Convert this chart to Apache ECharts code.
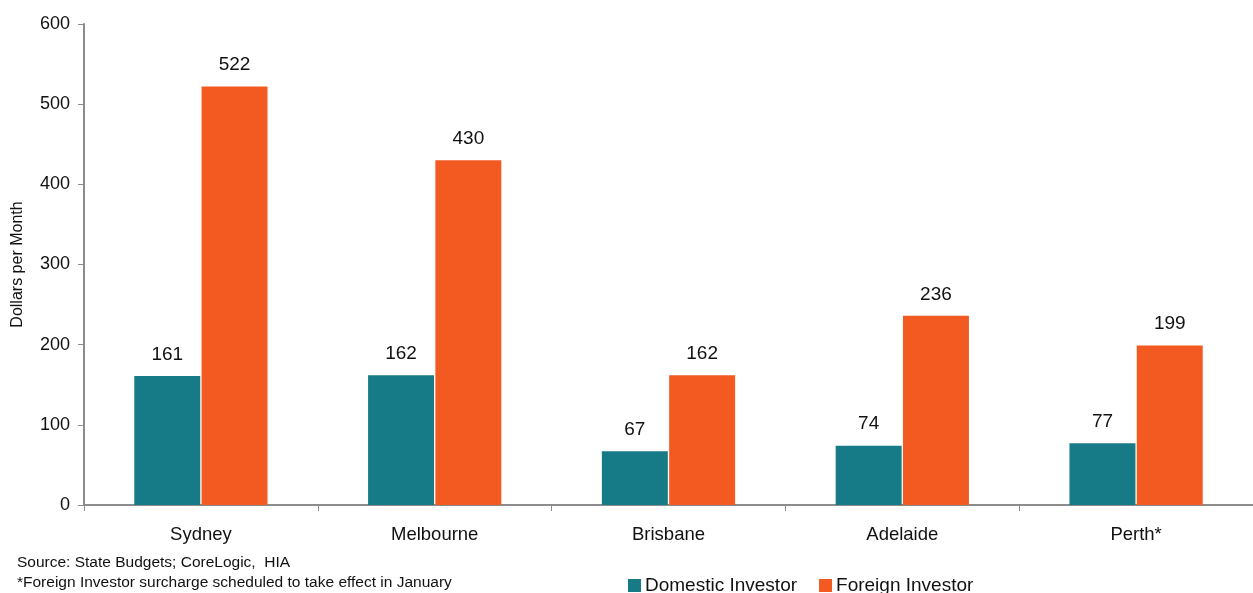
<!DOCTYPE html>
<html>
<head>
<meta charset="utf-8">
<script src="https://cdn.jsdelivr.net/npm/echarts@6/dist/echarts.min.js"></script>
<style>
  html, body { margin: 0; padding: 0; background: #fff; }
  #chart { width: 1253px; height: 593px; }
</style>
</head>
<body>
<div id="chart"></div>
<script>
const cities = ['Sydney', 'Melbourne', 'Brisbane', 'Adelaide', 'Perth*']
const domestic = [161, 162, 67, 74, 77]
const foreign = [522, 430, 162, 236, 199]
const yTicks = { min: 0, max: 600, interval: 100 }

const chart = echarts.init(document.getElementById('chart'))
const font = 'Liberation Sans, Arial, sans-serif'
const axisGray = '#8c8c8c'

chart.setOption({
  backgroundColor: '#fff',
  animation: false,
  textStyle: { fontFamily: font },
  grid: { left: 84, right: 0, top: 24, bottom: 88 },
  legend: {
    data: ['Domestic Investor', 'Foreign Investor'],
    left: 623,
    top: 571,
    itemWidth: 13,
    itemHeight: 13,
    itemGap: 22,
    icon: 'rect',
    textStyle: { fontSize: 19, color: '#111', fontFamily: font, padding: [0, 0, 0, -1] }
  },
  graphic: [
    { type: 'text', left: 17, top: 555, style: { text: 'Source: State Budgets; CoreLogic,  HIA', fontSize: 15.5, fill: '#111', fontFamily: font } },
    { type: 'text', left: 17, top: 575, style: { text: '*Foreign Investor surcharge scheduled to take effect in January', fontSize: 15.5, fill: '#111', fontFamily: font } }
  ],
  xAxis: {
    type: 'category',
    data: cities,
    axisLine: { lineStyle: { color: axisGray, width: 2 } },
    axisTick: { show: true, length: 6, lineStyle: { color: axisGray } },
    axisLabel: { fontSize: 18.5, color: '#111', margin: 20 }
  },
  yAxis: {
    type: 'value',
    min: yTicks.min,
    max: yTicks.max,
    interval: yTicks.interval,
    name: 'Dollars per Month',
    nameLocation: 'middle',
    nameGap: 58,
    nameTextStyle: { fontSize: 16, color: '#111' },
    axisLine: { show: true, lineStyle: { color: axisGray, width: 2 } },
    axisTick: { show: true, length: 6, lineStyle: { color: axisGray } },
    axisLabel: { fontSize: 18, color: '#111', margin: 14 },
    splitLine: { show: false }
  },
  series: [
    {
      name: 'Domestic Investor',
      type: 'bar',
      data: domestic,
      barGap: '2%',
      barCategoryGap: '43%',
      itemStyle: { color: '#167b86' },
      label: { show: true, position: 'top', distance: 12, fontSize: 19, color: '#111' }
    },
    {
      name: 'Foreign Investor',
      type: 'bar',
      data: foreign,
      itemStyle: { color: '#f25a22' },
      label: { show: true, position: 'top', distance: 12, fontSize: 19, color: '#111' }
    }
  ]
})
</script>
</body>
</html>
